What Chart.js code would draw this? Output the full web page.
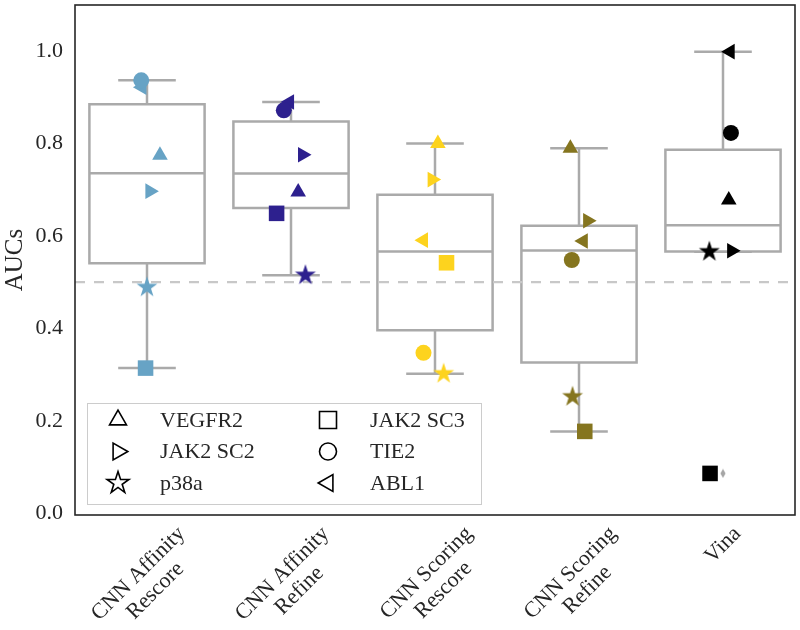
<!DOCTYPE html>
<html lang="en">
<head>
    <meta charset="UTF-8">
    <title>AUCs por método</title>
    <script src="https://cdn.jsdelivr.net/npm/chart.js"></script>
    <style>
        body { margin: 0; background: #ffffff; }
    </style>
</head>
<body>
    <canvas id="aucChart" width="800" height="630"></canvas>

    <script>
        const methods = [['CNN Affinity', 'Rescore'], ['CNN Affinity', 'Refine'], ['CNN Scoring', 'Rescore'], ['CNN Scoring', 'Refine'], ['Vina']];
        const methodColors = ['#67a3c5', '#2d208e', '#fdd31e', '#85751f', '#000000'];
        const targets = ['VEGFR2', 'JAK2 SC2', 'p38a', 'JAK2 SC3', 'TIE2', 'ABL1'];
        const yTicks = [0.0, 0.2, 0.4, 0.6, 0.8, 1.0];
        const chanceLevel = 0.5;

        // AUC de cada diana para cada método (mismo orden que methods)
        const vegfr2  = [0.775, 0.695, 0.800, 0.790, 0.678];
        const jak2sc2 = [0.697, 0.776, 0.722, 0.633, 0.568];
        const p38a    = [0.489, 0.515, 0.302, 0.252, 0.566];
        const jak2sc3 = [0.314, 0.649, 0.542, 0.177, 0.086];
        const tie2    = [0.937, 0.872, 0.347, 0.548, 0.823];
        const abl1    = [0.922, 0.890, 0.591, 0.589, 0.999];

        // desplazamiento horizontal del stripplot (en anchos de categoría)
        const jitVegfr2  = [0.09, 0.05, 0.02, -0.06, 0.04];
        const jitJak2sc2 = [0.02, 0.08, -0.02, 0.06, 0.06];
        const jitP38a    = [0.00, 0.10, 0.06, -0.045, -0.095];
        const jitJak2sc3 = [-0.01, -0.10, 0.08, 0.04, -0.09];
        const jitTie2    = [-0.04, -0.05, -0.08, -0.05, 0.055];
        const jitAbl1    = [-0.035, -0.01, -0.08, 0.03, 0.05];

        const values = [vegfr2, jak2sc2, p38a, jak2sc3, tie2, abl1];
        const jitters = [jitVegfr2, jitJak2sc2, jitP38a, jitJak2sc3, jitTie2, jitAbl1];

        const serif = "'Liberation Serif', 'DejaVu Serif', serif";
        const textColor = '#262626';
        const boxColor = '#aaaaaa';

        // marcadores: triángulo, triángulo a la derecha, estrella, cuadrado, círculo, triángulo a la izquierda
        const markers = [
            { kind: 'triangle', rot: 0, r: 9 },
            { kind: 'triangle', rot: 90, r: 9 },
            { kind: 'star', rot: 0, r: 11 },
            { kind: 'rect', rot: 0, r: 11 },
            { kind: 'circle', rot: 0, r: 8 },
            { kind: 'triangle', rot: 270, r: 9 }
        ];

        function starPath(ctx, cx, cy, R) {
            const inner = R * 0.382;
            ctx.beginPath();
            for (let k = 0; k < 10; k++) {
                const a = -Math.PI / 2 + k * Math.PI / 5;
                const rad = k % 2 ? inner : R;
                ctx.lineTo(cx + rad * Math.cos(a), cy + rad * Math.sin(a));
            }
            ctx.closePath();
        }

        function starImage(color, R) {
            const c = document.createElement('canvas');
            c.width = c.height = Math.ceil(2 * R + 2);
            const g = c.getContext('2d');
            g.fillStyle = color;
            starPath(g, c.width / 2, c.height / 2, R);
            g.fill();
            return c;
        }

        function diamondImage(color) {
            const c = document.createElement('canvas');
            c.width = 6;
            c.height = 10;
            const g = c.getContext('2d');
            g.fillStyle = color;
            g.beginPath();
            g.moveTo(3, 0.5);
            g.lineTo(5.6, 5);
            g.lineTo(3, 9.5);
            g.lineTo(0.4, 5);
            g.closePath();
            g.fill();
            return c;
        }

        function markerPath(ctx, m, x, y, r) {
            if (m.kind === 'star') {
                starPath(ctx, x, y, r);
                return;
            }
            ctx.beginPath();
            if (m.kind === 'circle') {
                ctx.arc(x, y, r, 0, Math.PI * 2);
            } else if (m.kind === 'rect') {
                ctx.rect(x - r, y - r, 2 * r, 2 * r);
            } else {
                let a = m.rot * Math.PI / 180;
                for (let k = 0; k < 3; k++) {
                    ctx.lineTo(x + Math.sin(a) * r, y - Math.cos(a) * r);
                    a += 2 * Math.PI / 3;
                }
                ctx.closePath();
            }
        }

        // estadísticos del boxplot (cuartiles lineales, bigotes a 1.5 IQR)
        function quantile(sorted, p) {
            const pos = (sorted.length - 1) * p;
            const lo = Math.floor(pos);
            const hi = Math.ceil(pos);
            return sorted[lo] + (sorted[hi] - sorted[lo]) * (pos - lo);
        }

        const stats = methods.map((m, i) => {
            const col = values.map(v => v[i]).sort((a, b) => a - b);
            const q1 = quantile(col, 0.25);
            const med = quantile(col, 0.5);
            const q3 = quantile(col, 0.75);
            const iqr = q3 - q1;
            const inside = col.filter(v => v >= q1 - 1.5 * iqr && v <= q3 + 1.5 * iqr);
            return {
                q1, med, q3,
                lo: Math.min(...inside),
                hi: Math.max(...inside),
                outliers: col.filter(v => !inside.includes(v))
            };
        });

        const datasets = targets.map((t, k) => {
            const m = markers[k];
            return {
                label: t,
                data: values[k].map((v, i) => ({ x: i + jitters[k][i], y: v })),
                pointStyle: m.kind === 'star' ? methodColors.map(c => starImage(c, m.r)) : m.kind,
                pointRotation: m.rot,
                pointRadius: m.r,
                pointBackgroundColor: methodColors,
                pointBorderWidth: 0
            };
        });

        const outlierPoints = [];
        stats.forEach((s, i) => s.outliers.forEach(v => outlierPoints.push({ x: i, y: v })));
        datasets.push({
            label: 'outliers',
            data: outlierPoints,
            pointStyle: diamondImage('#a6a6a6'),
            pointRadius: 5,
            pointBorderWidth: 0
        });

        const boxPlugin = {
            id: 'boxes',
            beforeDatasetsDraw(chart) {
                const { ctx, chartArea, scales: { x, y } } = chart;
                ctx.save();
                ctx.strokeStyle = boxColor;
                ctx.lineWidth = 2.5;
                stats.forEach((s, i) => {
                    const cx = x.getPixelForValue(i);
                    const half = x.getPixelForValue(i + 0.4) - cx;
                    const cap = half / 2;
                    const yq1 = y.getPixelForValue(s.q1);
                    const yq3 = y.getPixelForValue(s.q3);
                    const ymed = y.getPixelForValue(s.med);
                    const ylo = y.getPixelForValue(s.lo);
                    const yhi = y.getPixelForValue(s.hi);
                    ctx.beginPath();
                    ctx.rect(cx - half, yq3, 2 * half, yq1 - yq3);
                    ctx.moveTo(cx - half, ymed);
                    ctx.lineTo(cx + half, ymed);
                    ctx.moveTo(cx, yq3);
                    ctx.lineTo(cx, yhi);
                    ctx.moveTo(cx - cap, yhi);
                    ctx.lineTo(cx + cap, yhi);
                    ctx.moveTo(cx, yq1);
                    ctx.lineTo(cx, ylo);
                    ctx.moveTo(cx - cap, ylo);
                    ctx.lineTo(cx + cap, ylo);
                    ctx.stroke();
                });

                // línea de azar
                const yc = y.getPixelForValue(chanceLevel);
                ctx.setLineDash([10, 9]);
                ctx.strokeStyle = '#c8c8c8';
                ctx.lineWidth = 2.2;
                ctx.beginPath();
                ctx.moveTo(chartArea.left, yc);
                ctx.lineTo(chartArea.right, yc);
                ctx.stroke();
                ctx.restore();
            }
        };

        const frameLegendPlugin = {
            id: 'frameLegend',
            afterDatasetsDraw(chart) {
                const { ctx, chartArea, scales: { x } } = chart;
                ctx.save();

                // leyenda con marcadores huecos, dos columnas
                const lx = chartArea.left + 12;
                const ly = chartArea.bottom - 112;
                ctx.fillStyle = '#ffffff';
                ctx.strokeStyle = '#cccccc';
                ctx.lineWidth = 1;
                ctx.fillRect(lx, ly, 394, 101);
                ctx.strokeRect(lx + 0.5, ly + 0.5, 394, 101);
                const legendSize = [9.8, 9.8, 11.5, 8.5, 8.5, 9.8];
                ctx.font = '22px ' + serif;
                ctx.textBaseline = 'middle';
                ctx.textAlign = 'left';
                targets.forEach((t, k) => {
                    const col = Math.floor(k / 3);
                    const row = k % 3;
                    const mx = lx + 31 + col * 210;
                    const my = ly + 17 + row * 31.5;
                    ctx.fillStyle = '#ffffff';
                    ctx.strokeStyle = '#000000';
                    ctx.lineWidth = 1.6;
                    markerPath(ctx, markers[k], mx, my, legendSize[k]);
                    ctx.fill();
                    ctx.stroke();
                    ctx.fillStyle = textColor;
                    ctx.fillText(t, mx + 42, my + 1);
                });

                // marco del eje
                ctx.strokeStyle = textColor;
                ctx.lineWidth = 1.6;
                ctx.strokeRect(chartArea.left, chartArea.top, chartArea.right - chartArea.left, chartArea.bottom - chartArea.top);

                // etiquetas del eje x giradas 45 grados
                ctx.font = '22px ' + serif;
                ctx.fillStyle = textColor;
                ctx.textAlign = 'center';
                ctx.textBaseline = 'middle';
                const lineH = 24;
                methods.forEach((lines, i) => {
                    const w = Math.max(...lines.map(l => ctx.measureText(l).width));
                    const side = (w + lines.length * lineH) / Math.SQRT2;
                    const cx = x.getPixelForValue(i);
                    const cy = chartArea.bottom + 7 + side / 2;
                    ctx.save();
                    ctx.translate(cx, cy);
                    ctx.rotate(-Math.PI / 4);
                    lines.forEach((l, j) => {
                        ctx.fillText(l, 0, (j - (lines.length - 1) / 2) * lineH);
                    });
                    ctx.restore();
                });
                ctx.restore();
            }
        };

        new Chart(document.getElementById('aucChart'), {
            type: 'scatter',
            data: { datasets: datasets },
            options: {
                responsive: false,
                animation: false,
                events: [],
                layout: {
                    autoPadding: false,
                    padding: { top: 5, right: 5, bottom: 115, left: 0 }
                },
                plugins: {
                    legend: { display: false },
                    tooltip: { enabled: false }
                },
                scales: {
                    x: {
                        type: 'linear',
                        display: false,
                        min: -0.5,
                        max: 4.5
                    },
                    y: {
                        type: 'linear',
                        min: -0.004,
                        max: 1.1,
                        afterBuildTicks: axis => { axis.ticks = yTicks.map(v => ({ value: v })); },
                        afterFit: axis => {
                            axis.width = 75;
                            axis.paddingTop = 0;
                            axis.paddingBottom = 0;
                        },
                        grid: { display: false, drawTicks: false },
                        border: { display: false },
                        ticks: {
                            padding: 12,
                            color: textColor,
                            font: { family: serif, size: 22 },
                            callback: v => v.toFixed(1)
                        },
                        title: {
                            display: true,
                            text: 'AUCs',
                            color: textColor,
                            padding: 0,
                            font: { family: serif, size: 25 }
                        }
                    }
                }
            },
            plugins: [boxPlugin, frameLegendPlugin]
        });
    </script>
</body>
</html>
